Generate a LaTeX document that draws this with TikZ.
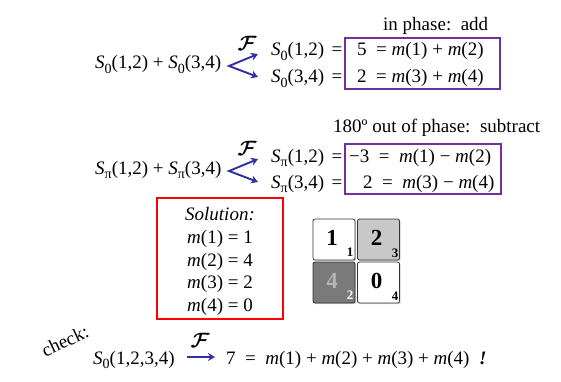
\documentclass[tikz,border=0pt]{standalone}
\usepackage{fontspec}
\setmainfont{Liberation Serif}
\usetikzlibrary{arrows.meta,shadows}
\newcommand\sbs[1]{\raisebox{-0.22em}{\fontsize{14}{14}\selectfont #1}}
\newcommand\Sz{\textit{S}\sbs{0}}
\newcommand\Sp{\textit{S}\sbs{π}}
\newcommand\mi[1]{\textit{m}(#1)}
\newcommand\FF{\mbox{\boldmath$\mathcal{F}$}}
\definecolor{arrblue}{RGB}{48,48,160}
\definecolor{boxpurple}{RGB}{112,48,160}
\definecolor{lgray}{RGB}{200,200,200}
\definecolor{dgray}{RGB}{122,122,122}
\definecolor{dtext}{RGB}{180,180,180}
\tikzset{
  txt/.style={inner sep=0pt, font=\fontsize{19}{22}\selectfont},
  ff/.style={inner sep=0pt, font=\fontsize{22}{24}\selectfont},
  barrow/.style={draw=arrblue, line width=1.9pt, {Stealth[length=7pt,width=8pt]}-{Stealth[length=7pt,width=8pt]}},
  sarrow/.style={draw=arrblue, line width=1.9pt, -{Stealth[length=7pt,width=8pt]}},
  pbox/.style={draw=boxpurple, line width=1.3pt, inner sep=0pt},
  rbox/.style={draw=red, line width=1.3pt, inner sep=0pt},
  cell/.style={draw=black!80, line width=0.8pt, rounded corners=2pt, minimum width=42pt, minimum height=41pt, inner sep=0pt,
    drop shadow={shadow xshift=1.2pt, shadow yshift=-1.2pt, opacity=0.35}},
  big/.style={inner sep=0pt, font=\fontsize{23}{24}\selectfont\bfseries},
  small/.style={inner sep=0pt, font=\fontsize{13}{14}\selectfont\bfseries},
}
\begin{document}
\begin{tikzpicture}[x=1pt,y=-1pt]
\useasboundingbox (0,0) rectangle (561,382);

% ---- block 1: in phase
\node[txt, anchor=base west] (ip) at (383,31) {in phase:\ \ add};
\node[txt, anchor=base west] (L1) at (95,69) {\Sz(1,2) + \Sz(3,4)};
\node[ff] (F1) at (247,43) {\FF};
\coordinate (v1) at (229,66);
\coordinate (a1) at (258,54);
\coordinate (b1) at (258,77);
\draw[barrow] (a1) -- (v1) -- (b1);
\node[txt, anchor=base west] (r11) at (271,56) {\Sz(1,2)};
\node[txt, anchor=base] (e11) at (337,56) {=};
\node[txt, anchor=base west] (r12) at (271,83) {\Sz(3,4)};
\node[txt, anchor=base] (e12) at (337,83) {=};
\node[pbox, minimum width=155pt, minimum height=51pt] (P1) at (422.5,63.5) {};
\node[txt, anchor=base west] (v11) at (357,56) {5\ \ = \mi{1} + \mi{2}};
\node[txt, anchor=base west] (v12) at (357,83) {2\ \ = \mi{3} + \mi{4}};

% ---- block 2: out of phase
\node[txt, anchor=base west] (op) at (333,133) {180º out of phase:\ \ subtract};
\node[txt, anchor=base west] (L2) at (95,174) {\Sp(1,2) + \Sp(3,4)};
\node[ff] (F2) at (247,148) {\FF};
\coordinate (v2) at (229,171);
\coordinate (a2) at (258,159);
\coordinate (b2) at (258,182);
\draw[barrow] (a2) -- (v2) -- (b2);
\node[txt, anchor=base west] (r21) at (271,162) {\Sp(1,2)};
\node[txt, anchor=base] (e21) at (337,162) {=};
\node[txt, anchor=base west] (r22) at (271,188) {\Sp(3,4)};
\node[txt, anchor=base] (e22) at (337,188) {=};
\node[pbox, minimum width=156pt, minimum height=50pt] (P2) at (423,169) {};
\node[txt, anchor=base west] (v21) at (349,162) {−3\ \ =\ \ \mi{1} − \mi{2}};
\node[txt, anchor=base west] (v22) at (363,188) {2\ \ =\ \ \mi{3} − \mi{4}};

% ---- solution box
\node[rbox, minimum width=126pt, minimum height=121pt] (R) at (220,258.5) {};
\node[txt, anchor=base] (sol) at (220,220) {\textit{Solution:}};
\node[txt, anchor=base] (m1) at (220,243) {\mi{1} = 1};
\node[txt, anchor=base] (m2) at (220,266) {\mi{2} = 4};
\node[txt, anchor=base] (m3) at (220,288) {\mi{3} = 2};
\node[txt, anchor=base] (m4) at (220,311) {\mi{4} = 0};

% ---- grid
\node[cell, fill=white] (c1) at (334,239.5) {};
\node[cell, fill=lgray] (c2) at (378.5,239.5) {};
\node[cell, fill=dgray] (c3) at (334,282.5) {};
\node[cell, fill=white] (c4) at (378.5,282.5) {};
\node[big] (d1) at (332,238) {1};
\node[small] (s1) at (350,252) {1};
\node[big] (d2) at (376.5,238) {2};
\node[small] (s2) at (395,253) {3};
\node[big, text=dtext] (d3) at (332,281) {4};
\node[small, text=white] (s3) at (350,295) {2};
\node[big] (d4) at (376.5,281) {0};
\node[small] (s4) at (395,296) {4};

% ---- check
\node[inner sep=0pt, font=\fontsize{19}{22}\selectfont, rotate=25] (chk) at (65,341) {check:};
\node[txt, anchor=base west] (S4) at (93,364) {\Sz(1,2,3,4)};
\node[ff] (F3) at (200,340) {\FF};
\coordinate (c3s) at (187,357);
\coordinate (c3e) at (215,357);
\draw[sarrow] (c3s) -- (c3e);
\node[txt, anchor=base west] (res) at (226,364) {7\ \ =\ \ \mi{1} + \mi{2} + \mi{3} + \mi{4}\ \ \textbf{\textit{!}}};
\end{tikzpicture}
\end{document}
